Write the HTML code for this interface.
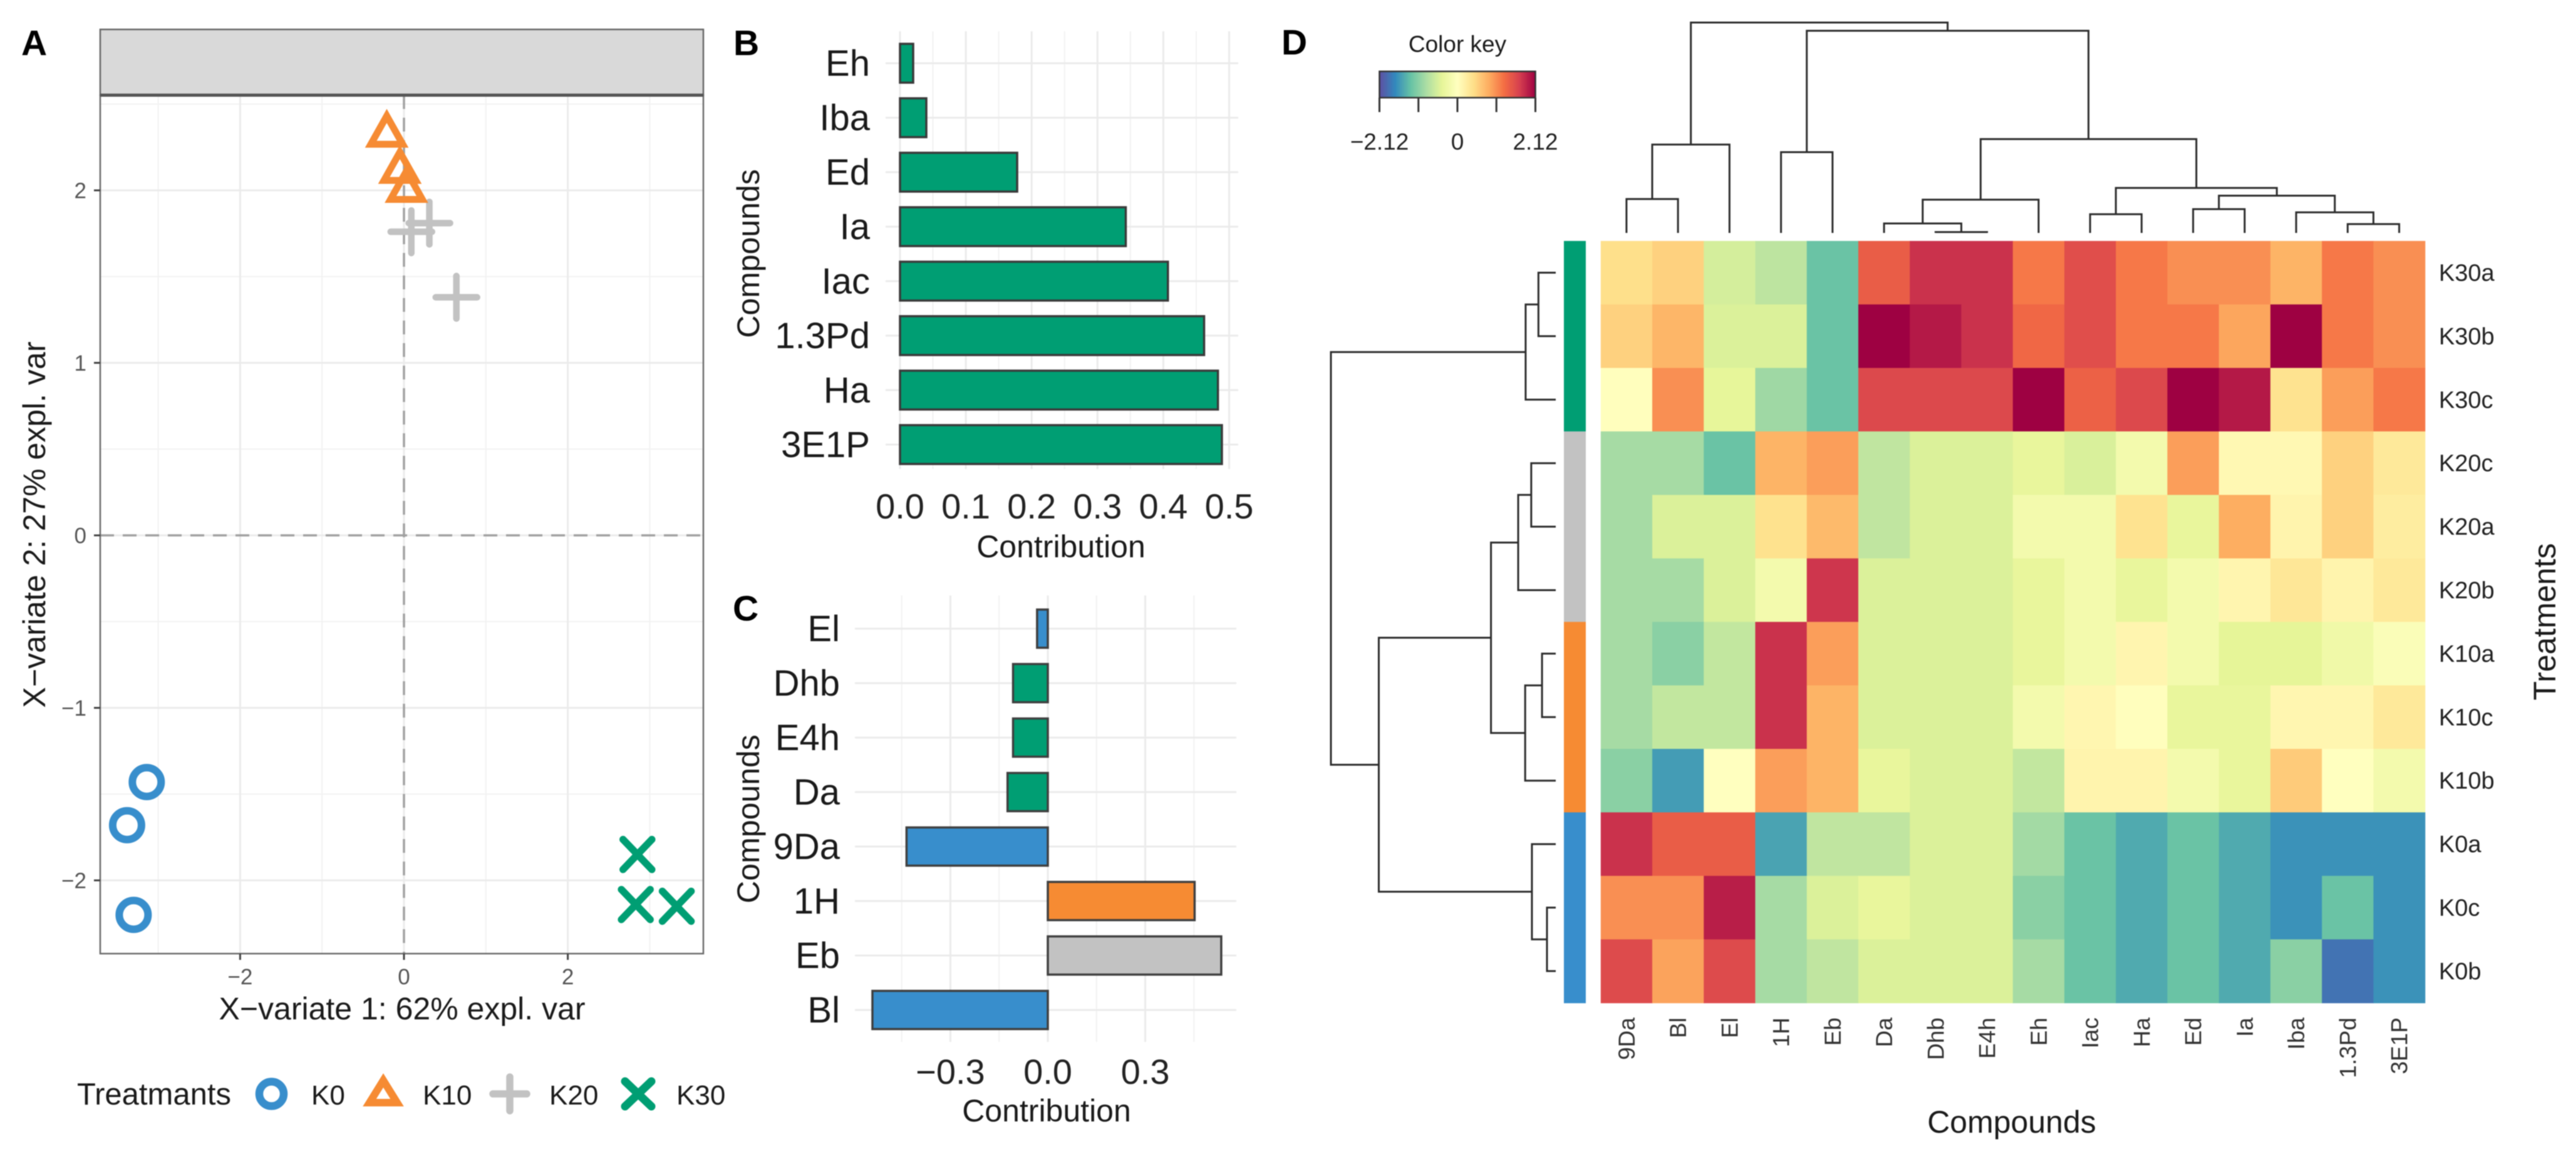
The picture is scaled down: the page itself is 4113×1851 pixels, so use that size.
<!DOCTYPE html>
<html lang="en">
<head>
<meta charset="utf-8">
<title>Multi-panel compound chart</title>
<style>
html,body{margin:0;padding:0;background:#fff;}
svg{display:block;filter:blur(0.9px);}
text{font-family:"Liberation Sans",sans-serif;}
</style>
</head>
<body>
<svg id="fig" xmlns="http://www.w3.org/2000/svg" width="4113" height="1851" viewBox="0 0 4113 1851">
  <defs>
    <linearGradient id="keyGradient" x1="0" x2="1" y1="0" y2="0">
      <stop offset="0" stop-color="#5E4FA2"/><stop offset="0.1" stop-color="#3288BD"/><stop offset="0.2" stop-color="#66C2A5"/><stop offset="0.3" stop-color="#ABDDA4"/><stop offset="0.4" stop-color="#E6F598"/><stop offset="0.5" stop-color="#FFFFBF"/><stop offset="0.6" stop-color="#FEE08B"/><stop offset="0.7" stop-color="#FDAE61"/><stop offset="0.8" stop-color="#F46D43"/><stop offset="0.9" stop-color="#D53E4F"/><stop offset="1" stop-color="#9E0142"/>
    </linearGradient>
  </defs>
  <rect width="4113" height="1851" fill="#ffffff"/>

  <g id="panelA"></g>
  <g id="panelB"></g>
  <g id="panelC"></g>
  <g id="panelD"></g>

  <g font-weight="700" font-size="57" fill="#000">
    <text x="34" y="88">A</text>
    <text x="1171" y="88">B</text>
    <text x="1170" y="991">C</text>
    <text x="2046" y="87">D</text>
  </g>

  <g fill="#1a1a1a">
    <text x="642" y="1628" font-size="50" text-anchor="middle">X−variate 1: 62% expl. var</text>
    <text transform="translate(72,838) rotate(-90)" font-size="50" text-anchor="middle">X−variate 2: 27% expl. var</text>
    <text x="1694" y="890" font-size="50" text-anchor="middle">Contribution</text>
    <text transform="translate(1212,405) rotate(-90)" font-size="50" text-anchor="middle">Compounds</text>
    <text x="1671" y="1791" font-size="50" text-anchor="middle">Contribution</text>
    <text transform="translate(1212,1308) rotate(-90)" font-size="50" text-anchor="middle">Compounds</text>
    <text x="3212" y="1809" font-size="50" text-anchor="middle">Compounds</text>
    <text transform="translate(4080,993) rotate(-90)" font-size="50" text-anchor="middle">Treatments</text>
    <text x="2327" y="83" font-size="37" text-anchor="middle">Color key</text>
  </g>

  <g fill="#1a1a1a">
    <text x="123" y="1764" font-size="49">Treatmants</text>
    <text x="497" y="1764" font-size="44">K0</text>
    <text x="675" y="1764" font-size="44">K10</text>
    <text x="877" y="1764" font-size="44">K20</text>
    <text x="1080" y="1764" font-size="44">K30</text>
    <circle cx="433.5" cy="1747" r="19.5" fill="none" stroke="#388ECC" stroke-width="12.5"/>
    <path d="M590 1761 L612 1725.5 L634 1761 Z" fill="none" stroke="#F68B33" stroke-width="12"/>
    <path d="M787 1747 H841 M814 1720 V1774" fill="none" stroke="#C2C2C2" stroke-width="11.5" stroke-linecap="round"/>
    <path d="M998 1727 L1040 1767 M1040 1727 L998 1767" fill="none" stroke="#009E73" stroke-width="13" stroke-linecap="round"/>
  </g>
</svg>

<script>
/* ---------- Panel A data ---------- */
const k0X  = [-3.14, -3.38, -3.30];
const k0Y  = [-1.43, -1.68, -2.20];
const k10X = [-0.21, -0.05, 0.03];
const k10Y = [2.36, 2.15, 2.04];
const k20X = [0.09, 0.31, 0.64];
const k20Y = [1.76, 1.81, 1.38];
const k30X = [2.85, 2.83, 3.33];
const k30Y = [-1.85, -2.14, -2.15];
const scoreXTicks = [-2, 0, 2];
const scoreYTicks = [-2, -1, 0, 1, 2];
const scoreXMinor = [-3, -1, 1, 3];
const scoreYMinor = [-1.5, -0.5, 0.5, 1.5, 2.5];

/* ---------- Panel B data ---------- */
const bCategories = ['Eh', 'Iba', 'Ed', 'Ia', 'Iac', '1.3Pd', 'Ha', '3E1P'];
const bValues = [0.02, 0.04, 0.178, 0.343, 0.407, 0.462, 0.483, 0.489];
const bTicks = [0, 0.1, 0.2, 0.3, 0.4, 0.5];
const bTickLabels = ['0.0', '0.1', '0.2', '0.3', '0.4', '0.5'];

/* ---------- Panel C data ---------- */
const cCategories = ['El', 'Dhb', 'E4h', 'Da', '9Da', '1H', 'Eb', 'Bl'];
const cValues = [-0.033, -0.107, -0.107, -0.124, -0.435, 0.452, 0.534, -0.54];
const cGroups = ['K0', 'K30', 'K30', 'K30', 'K0', 'K10', 'K20', 'K0'];
const cTicks = [-0.3, 0, 0.3];
const cTickLabels = ['−0.3', '0.0', '0.3'];
const cMinor = [-0.45, -0.15, 0.15, 0.45];

/* ---------- Panel D data ---------- */
const hmCols = ['9Da', 'Bl', 'El', '1H', 'Eb', 'Da', 'Dhb', 'E4h', 'Eh', 'Iac', 'Ha', 'Ed', 'Ia', 'Iba', '1.3Pd', '3E1P'];
const hmRows = ['K30a', 'K30b', 'K30c', 'K20c', 'K20a', 'K20b', 'K10a', 'K10c', 'K10b', 'K0a', 'K0c', 'K0b'];
const hmRowGroups = ['K30', 'K30', 'K30', 'K20', 'K20', 'K20', 'K10', 'K10', 'K10', 'K0', 'K0', 'K0'];
const rowK30a = [0.42, 0.55, -0.55, -0.72, -1.25, 1.42, 1.78, 1.78, 1.2, 1.55, 1.2, 1.05, 1.05, 0.8, 1.2, 1.05];
const rowK30b = [0.55, 0.78, -0.5, -0.5, -1.25, 2.12, 1.95, 1.78, 1.33, 1.55, 1.2, 1.2, 0.9, 2.12, 1.2, 1.05];
const rowK30c = [0.02, 1.05, -0.4, -0.92, -1.25, 1.6, 1.6, 1.6, 2.12, 1.38, 1.6, 2.12, 1.95, 0.38, 0.95, 1.2];
const rowK20c = [-0.88, -0.88, -1.25, 0.8, 0.95, -0.7, -0.5, -0.5, -0.38, -0.52, -0.2, 0.95, 0.1, 0.1, 0.55, 0.3];
const rowK20a = [-0.88, -0.5, -0.5, 0.4, 0.75, -0.7, -0.5, -0.5, -0.2, -0.2, 0.38, -0.38, 0.85, 0.15, 0.55, 0.25];
const rowK20b = [-0.88, -0.88, -0.5, -0.2, 1.75, -0.5, -0.5, -0.5, -0.38, -0.2, -0.38, -0.2, 0.13, 0.33, 0.15, 0.3];
const rowK10a = [-0.88, -1.05, -0.68, 1.78, 0.95, -0.5, -0.5, -0.5, -0.38, -0.2, 0.13, -0.2, -0.42, -0.42, -0.25, -0.08];
const rowK10c = [-0.88, -0.68, -0.68, 1.78, 0.8, -0.5, -0.5, -0.5, -0.2, 0.12, 0.02, -0.38, -0.38, 0.12, 0.12, 0.3];
const rowK10b = [-1.05, -1.55, 0.0, 0.95, 0.8, -0.38, -0.5, -0.5, -0.68, 0.15, 0.15, -0.2, -0.38, 0.6, 0.0, -0.2];
const rowK0a  = [1.78, 1.42, 1.42, -1.5, -0.7, -0.7, -0.5, -0.5, -0.9, -1.25, -1.45, -1.25, -1.45, -1.62, -1.62, -1.62];
const rowK0c  = [1.05, 1.05, 1.92, -0.88, -0.5, -0.38, -0.5, -0.5, -1.05, -1.25, -1.45, -1.25, -1.45, -1.62, -1.25, -1.62];
const rowK0b  = [1.58, 0.92, 1.58, -0.88, -0.7, -0.5, -0.5, -0.5, -0.88, -1.25, -1.45, -1.25, -1.45, -1.05, -1.85, -1.62];
const hmValues = [rowK30a, rowK30b, rowK30c, rowK20c, rowK20a, rowK20b, rowK10a, rowK10c, rowK10b, rowK0a, rowK0c, rowK0b];
const keyTicks = [-2.12, -1.06, 0, 1.06, 2.12];
const keyLabelValues = [-2.12, 0, 2.12];
const keyLabels = ['−2.12', '0', '2.12'];
/* dendrograms: [merge height, left, right]; integers are leaf indices */
const colTree = [10, [4.2, [1.61, 0, 1], 2], [9.61, [3.84, 3, 4], [4.46, [1.58, [0.45, 5, [0.04, 6, 7]], 8], [2.14, [0.89, 9, 10], [1.77, [1.13, 11, 12], [0.98, 13, [0.42, 14, 15]]]]]]];
const rowTree = [10, [1.34, [0.77, 0, 1], 2], [7.87, [2.88, [1.67, [1.09, 3, 4], 5], [1.36, [0.61, 6, 7], 8]], [1.06, 9, [0.39, 10, 11]]]];
const spectral = ['#5E4FA2', '#3288BD', '#66C2A5', '#ABDDA4', '#E6F598', '#FFFFBF', '#FEE08B', '#FDAE61', '#F46D43', '#D53E4F', '#9E0142'];

/* ---------- helpers ---------- */
const NS = 'http://www.w3.org/2000/svg';
const groupColor = { K0: '#388ECC', K10: '#F68B33', K20: '#C2C2C2', K30: '#009E73' };
function add(parent, tag, attrs, name, txt) {
  const el = document.createElementNS(NS, tag);
  for (const k in attrs) el.setAttribute(k, attrs[k]);
  
  
  if (txt !== undefined) el.textContent = txt;
  parent.appendChild(el);
  return el;
}
function vline(p, x, y1, y2, stroke, sw, name) {
  return add(p, 'line', { x1: x, x2: x, y1: y1, y2: y2, stroke: stroke, 'stroke-width': sw }, name);
}
function hline(p, y, x1, x2, stroke, sw, name) {
  return add(p, 'line', { x1: x1, x2: x2, y1: y, y2: y, stroke: stroke, 'stroke-width': sw }, name);
}

/* ---------- Panel A ---------- */
(function () {
  const p = document.getElementById('panelA');
  const L = 160, R = 1123, T = 152, B = 1523;
  const sx = v => 645 + v * 130.8;
  const sy = v => 855 - v * 275.5;
  scoreXMinor.forEach(v => vline(p, sx(v), T, B, '#f2f2f2', 2, 'a-x-minor-gridline'));
  scoreYMinor.forEach(v => hline(p, sy(v), L, R, '#f2f2f2', 2, 'a-y-minor-gridline'));
  scoreXTicks.forEach(v => vline(p, sx(v), T, B, '#ebebeb', 3, 'a-x-major-gridline'));
  scoreYTicks.forEach(v => hline(p, sy(v), L, R, '#ebebeb', 3, 'a-y-major-gridline'));
  add(p, 'line', { x1: sx(0), x2: sx(0), y1: T, y2: B, stroke: '#a0a0a0', 'stroke-width': 3.5, 'stroke-dasharray': '22 14' }, 'a-zero-line-vertical');
  add(p, 'line', { x1: L, x2: R, y1: sy(0), y2: sy(0), stroke: '#a0a0a0', 'stroke-width': 3.5, 'stroke-dasharray': '22 14' }, 'a-zero-line-horizontal');

  k0X.forEach((x, i) => {
    add(p, 'circle', { cx: sx(x), cy: sy(k0Y[i]), r: 23, fill: 'none', stroke: groupColor.K0, 'stroke-width': 12 }, 'point-k0');
  });
  k20X.forEach((x, i) => {
    const cx = sx(x), cy = sy(k20Y[i]);
    add(p, 'path', { d: `M${cx - 33} ${cy}H${cx + 33}M${cx} ${cy - 34}V${cy + 34}`, fill: 'none', stroke: groupColor.K20, 'stroke-width': 10.5, 'stroke-linecap': 'round' }, 'point-k20');
  });
  k10X.forEach((x, i) => {
    const cx = sx(x), cy = sy(k10Y[i]);
    add(p, 'path', { d: `M${cx - 25.4} ${cy + 25.5}L${cx} ${cy - 19.7}L${cx + 25.4} ${cy + 25.5}Z`, fill: 'none', stroke: groupColor.K10, 'stroke-width': 11 }, 'point-k10');
  });
  k30X.forEach((x, i) => {
    const cx = sx(x), cy = sy(k30Y[i]);
    add(p, 'path', { d: `M${cx - 23} ${cy - 24}L${cx + 23} ${cy + 24}M${cx + 23} ${cy - 24}L${cx - 23} ${cy + 24}`, fill: 'none', stroke: groupColor.K30, 'stroke-width': 11.5, 'stroke-linecap': 'round' }, 'point-k30');
  });

  add(p, 'rect', { x: L, y: B - 1371, width: R - L, height: 1371, fill: 'none', stroke: '#6a6a6a', 'stroke-width': 2.5 }, 'a-panel-border');
  add(p, 'rect', { x: L, y: 47, width: R - L, height: 105, fill: '#d9d9d9', stroke: '#666', 'stroke-width': 2.5 }, 'a-title-strip');
  hline(p, 152, L, R, '#555', 5, 'a-strip-bottom-edge');

  scoreXTicks.forEach(v => {
    vline(p, sx(v), B, B + 10, '#444', 3, 'a-x-tick');
    add(p, 'text', { x: sx(v), y: 1572, 'font-size': 35, fill: '#555', 'text-anchor': 'middle' }, 'a-x-tick-label', String(v).replace('-', '−'));
  });
  scoreYTicks.forEach(v => {
    hline(p, sy(v), L - 10, L, '#444', 3, 'a-y-tick');
    add(p, 'text', { x: 138, y: sy(v) + 12.5, 'font-size': 35, fill: '#555', 'text-anchor': 'end' }, 'a-y-tick-label', String(v).replace('-', '−'));
  });
})();

/* ---------- Panel B ---------- */
(function () {
  const p = document.getElementById('panelB');
  const sx = v => 1437 + v * 1051;
  const sy = i => 101 + i * 87;
  bTicks.forEach(v => {
    vline(p, sx(v), 50, 749, '#ebebeb', 3, 'b-x-major-gridline');
    if (v < 0.5) vline(p, sx(v + 0.05), 50, 749, '#f2f2f2', 2, 'b-x-minor-gridline');
  });
  bCategories.forEach((c, i) => {
    hline(p, sy(i), 1414, 1977, '#ebebeb', 3, 'b-y-gridline');
  });
  bCategories.forEach((c, i) => {
    add(p, 'rect', { x: sx(0), y: sy(i) - 31, width: sx(bValues[i]) - sx(0), height: 62, fill: groupColor.K30, stroke: '#3a3a3a', 'stroke-width': 3.5 }, 'bar-' + c);
    add(p, 'text', { x: 1389, y: sy(i) + 20, 'font-size': 58, fill: '#1a1a1a', 'text-anchor': 'end' }, 'b-category-label', c);
  });
  bTicks.forEach((v, i) => {
    add(p, 'text', { x: sx(v), y: 828, 'font-size': 56, fill: '#222', 'text-anchor': 'middle' }, 'b-x-tick-label', bTickLabels[i]);
  });
})();

/* ---------- Panel C ---------- */
(function () {
  const p = document.getElementById('panelC');
  const sx = v => 1673 + v * 518.6;
  const sy = i => 1004 + i * 87;
  cMinor.forEach(v => vline(p, sx(v), 951, 1664, '#f2f2f2', 2, 'c-x-minor-gridline'));
  cTicks.forEach(v => vline(p, sx(v), 951, 1664, '#ebebeb', 3, 'c-x-major-gridline'));
  cCategories.forEach((c, i) => {
    hline(p, sy(i), 1365, 1974, '#ebebeb', 3, 'c-y-gridline');
  });
  cCategories.forEach((c, i) => {
    const v = cValues[i];
    add(p, 'rect', { x: Math.min(sx(v), sx(0)), y: sy(i) - 30.5, width: Math.abs(sx(v) - sx(0)), height: 61, fill: groupColor[cGroups[i]], stroke: '#3f3f3f', 'stroke-width': 3.5 }, 'bar-' + c);
    add(p, 'text', { x: 1341, y: sy(i) + 20, 'font-size': 58, fill: '#1a1a1a', 'text-anchor': 'end' }, 'c-category-label', c);
  });
  cTicks.forEach((v, i) => {
    add(p, 'text', { x: sx(v), y: 1731, 'font-size': 56, fill: '#222', 'text-anchor': 'middle' }, 'c-x-tick-label', cTickLabels[i]);
  });
})();

/* ---------- Panel D ---------- */
(function () {
  const p = document.getElementById('panelD');
  const X0 = 2555.8, Y0 = 384.8, CW = 82.25, RH = 101.4;
  const cx = i => X0 + CW * (i + 0.5);
  const cy = i => Y0 + RH * (i + 0.5);
  function hex(c) { return [1, 3, 5].map(k => parseInt(c.substr(k, 2), 16)); }
  function color(v) {
    const t = Math.max(0, Math.min(1, (v + 2.12) / 4.24)) * (spectral.length - 1);
    const a = Math.min(Math.floor(t), spectral.length - 2), f = t - a;
    const A = hex(spectral[a]), B = hex(spectral[a + 1]);
    return 'rgb(' + A.map((q, k) => Math.round(q + (B[k] - q) * f)).join(',') + ')';
  }

  hmValues.forEach((row, r) => {
    row.forEach((v, c) => {
      add(p, 'rect', { x: X0 + CW * c, y: Y0 + RH * r, width: CW + 0.6, height: RH + 0.6, fill: color(v) }, 'heatmap-cell-' + hmRows[r] + '-' + hmCols[c]);
    });
    add(p, 'rect', { x: 2497, y: Y0 + RH * r, width: 35, height: RH + 0.6, fill: groupColor[hmRowGroups[r]] }, 'row-group-strip-' + hmRows[r]);
    add(p, 'text', { x: 3894, y: cy(r) + 13, 'font-size': 38, fill: '#222' }, 'row-label', hmRows[r]);
  });
  hmCols.forEach((c, i) => {
    add(p, 'text', { transform: `translate(${cx(i) + 13},1625) rotate(-90)`, 'font-size': 37, fill: '#333', 'text-anchor': 'end' }, 'column-label', c);
  });

  /* top dendrogram */
  const topH = h => 372 - h * 33.6;
  function drawTop(node) {
    if (typeof node === 'number') return { pos: cx(node), h: 0 };
    const a = drawTop(node[1]), b = drawTop(node[2]);
    const y = topH(node[0]);
    add(p, 'path', { d: `M${a.pos} ${topH(a.h)}V${y}H${b.pos}V${topH(b.h)}`, fill: 'none', stroke: '#2c2c2c', 'stroke-width': 3 }, 'column-dendrogram-branch');
    return { pos: (a.pos + b.pos) / 2, h: node[0] };
  }
  drawTop(colTree);

  /* left dendrogram */
  const leftH = h => 2484 - h * 35.9;
  function drawLeft(node) {
    if (typeof node === 'number') return { pos: cy(node), h: 0 };
    const a = drawLeft(node[1]), b = drawLeft(node[2]);
    const x = leftH(node[0]);
    add(p, 'path', { d: `M${leftH(a.h)} ${a.pos}H${x}V${b.pos}H${leftH(b.h)}`, fill: 'none', stroke: '#2c2c2c', 'stroke-width': 3 }, 'row-dendrogram-branch');
    return { pos: (a.pos + b.pos) / 2, h: node[0] };
  }
  drawLeft(rowTree);

  /* colour key */
  const kx = v => 2327 + v * (124.5 / 2.12);
  add(p, 'rect', { x: kx(-2.12), y: 114, width: kx(2.12) - kx(-2.12), height: 42, fill: 'url(#keyGradient)', stroke: '#333', 'stroke-width': 2.5 }, 'color-key-bar');
  keyTicks.forEach(v => vline(p, kx(v), 156, 179, '#333', 3, 'color-key-tick'));
  keyLabelValues.forEach((v, i) => {
    add(p, 'text', { x: kx(v), y: 239, 'font-size': 37, fill: '#222', 'text-anchor': 'middle' }, 'color-key-label', keyLabels[i]);
  });
})();
</script>
</body>
</html>
